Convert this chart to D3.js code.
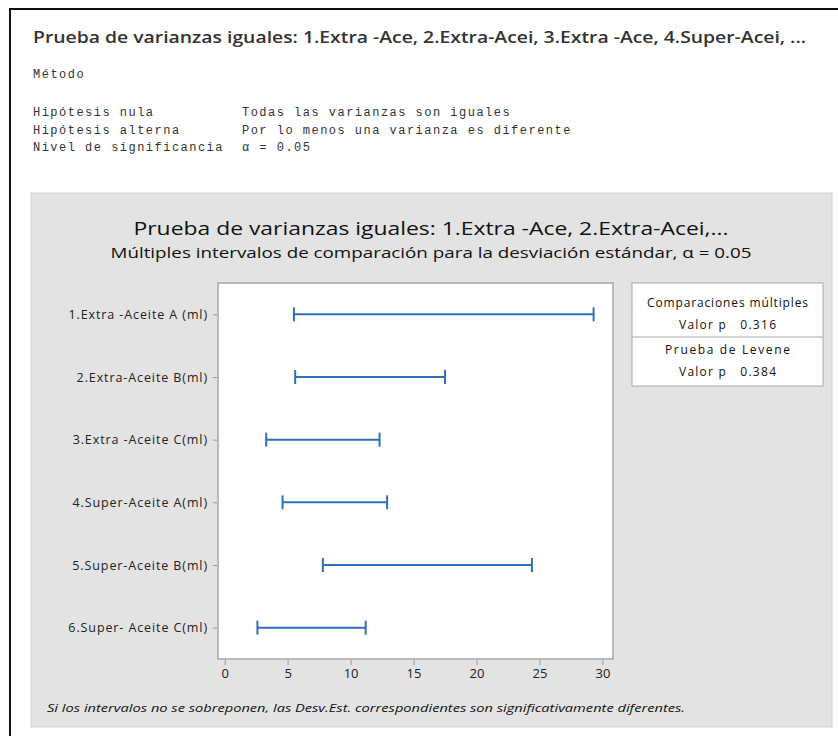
<!DOCTYPE html>
<html><head><meta charset="utf-8">
<script src="https://cdn.jsdelivr.net/npm/d3@7/dist/d3.min.js"></script>
<style>body{margin:0;background:#fff;} svg{display:block;}</style>
</head><body>
<script>
const categories = ["1.Extra -Aceite A (ml)", "2.Extra-Aceite B(ml)", "3.Extra -Aceite C(ml)", "4.Super-Aceite A(ml)", "5.Super-Aceite B(ml)", "6.Super- Aceite C(ml)"];
const lower = [5.5, 5.6, 3.3, 4.6, 7.8, 2.6];
const upper = [29.3, 17.5, 12.3, 12.9, 24.4, 11.2];
const xTicks = [0, 5, 10, 15, 20, 25, 30];
const headerTitle = "Prueba de varianzas iguales: 1.Extra -Ace, 2.Extra-Acei, 3.Extra -Ace, 4.Super-Acei, ...";
const methodRows = [["Hipótesis nula", "Todas las varianzas son iguales"], ["Hipótesis alterna", "Por lo menos una varianza es diferente"], ["Nivel de significancia", "α = 0.05"]];
const chartTitle = "Prueba de varianzas iguales: 1.Extra -Ace, 2.Extra-Acei,...";
const chartSubtitle = "Múltiples intervalos de comparación para la desviación estándar, α = 0.05";
const legendRows = ["Comparaciones múltiples", "Valor p   0.316", "Prueba de Levene", "Valor p   0.384"];
const footnote = "Si los intervalos no se sobreponen, las Desv.Est. correspondientes son significativamente diferentes.";

const W = 838, H = 736;
const svg = d3.select("body").append("svg").attr("width", W).attr("height", H);
const sans = "'Open Sans', 'Noto Sans', sans-serif";
const mono = "'Liberation Mono', 'DejaVu Sans Mono', monospace";

// outer frame
svg.append("rect").attr("x", 10).attr("y", 9).attr("width", 850).attr("height", 760)
  .attr("fill", "#fff").attr("stroke", "#111").attr("stroke-width", 2);

svg.append("text").attr("x", 33).attr("y", 43).attr("font-family", sans).attr("font-weight", 600)
  .attr("font-size", 16.5).attr("fill", "#333").attr("textLength", 773).attr("lengthAdjust", "spacingAndGlyphs")
  .text(headerTitle);

svg.append("text").attr("x", 33).attr("y", 78).attr("font-family", mono).attr("font-size", 12)
  .attr("fill", "#333").attr("letter-spacing", 1.5).text("Método");
methodRows.forEach((r, i) => {
  const yv = 116 + i * 17.5;
  svg.append("text").attr("x", 33).attr("y", yv).attr("font-family", mono).attr("font-size", 12)
    .attr("fill", "#333").attr("letter-spacing", 1.48).text(r[0]);
  svg.append("text").attr("x", 242).attr("y", yv).attr("font-family", mono).attr("font-size", 12)
    .attr("fill", "#333").attr("letter-spacing", 1.48).text(r[1]);
});

// gray panel
svg.append("rect").attr("x", 31).attr("y", 193).attr("width", 801).attr("height", 534)
  .attr("fill", "#e3e3e3").attr("stroke", "#d2d2d2").attr("stroke-width", 1);

svg.append("text").attr("x", 431).attr("y", 235).attr("text-anchor", "middle").attr("font-family", sans)
  .attr("font-size", 18.5).attr("fill", "#111").attr("textLength", 595).attr("lengthAdjust", "spacingAndGlyphs")
  .text(chartTitle);
svg.append("text").attr("x", 431).attr("y", 258).attr("text-anchor", "middle").attr("font-family", sans)
  .attr("font-size", 15).attr("fill", "#111").attr("textLength", 641).attr("lengthAdjust", "spacingAndGlyphs")
  .text(chartSubtitle);

// plot
const px0 = 218, px1 = 613, py0 = 283, py1 = 659;
const x = d3.scaleLinear().domain([-0.53, 30.84]).range([px0, px1]);
const y = d3.scalePoint().domain(categories).range([py0, py1]).padding(0.5);

svg.append("rect").attr("x", px0).attr("y", py0).attr("width", px1 - px0).attr("height", py1 - py0)
  .attr("fill", "#fff").attr("stroke", "#a8a8a8").attr("stroke-width", 1.5);

const xAxis = svg.append("g").attr("transform", `translate(0,${py1 + 1})`)
  .call(d3.axisBottom(x).tickValues(xTicks).tickSize(5).tickPadding(4));
xAxis.select(".domain").remove();
xAxis.selectAll("line").attr("stroke", "#9a9a9a");
xAxis.selectAll("text").attr("font-family", sans).attr("font-size", 13).attr("fill", "#222");

const yAxis = svg.append("g").attr("transform", `translate(${px0 - 1},0)`)
  .call(d3.axisLeft(y).tickSize(4).tickPadding(5));
yAxis.select(".domain").remove();
yAxis.selectAll("line").attr("stroke", "#9a9a9a");
yAxis.selectAll("text").attr("font-family", sans).attr("font-size", 12.5).attr("letter-spacing", 0.9).attr("fill", "#222");

const blue = "#2f6fb8";
const g = svg.append("g");
categories.forEach((c, i) => {
  const yy = y(c);
  g.append("line").attr("x1", x(lower[i])).attr("x2", x(upper[i])).attr("y1", yy).attr("y2", yy)
    .attr("stroke", blue).attr("stroke-width", 2);
  [lower[i], upper[i]].forEach(v => {
    g.append("line").attr("x1", x(v)).attr("x2", x(v)).attr("y1", yy - 7).attr("y2", yy + 7)
      .attr("stroke", blue).attr("stroke-width", 2);
  });
});

// legend box
const lx = 632, lw = 191;
svg.append("rect").attr("x", lx).attr("y", 283).attr("width", lw).attr("height", 103)
  .attr("fill", "#fff").attr("stroke", "#a8a8a8").attr("stroke-width", 1);
svg.append("line").attr("x1", lx).attr("x2", lx + lw).attr("y1", 337).attr("y2", 337)
  .attr("stroke", "#a8a8a8").attr("stroke-width", 1);
const ly = [307, 329, 354, 376];
const lLen = [161, 97, 125, 97];
legendRows.forEach((t, i) => {
  svg.append("text").attr("x", lx + lw / 2).attr("y", ly[i]).attr("text-anchor", "middle")
    .attr("font-family", sans).attr("font-size", 12).attr("fill", "#111")
    .attr("textLength", lLen[i]).attr("lengthAdjust", "spacing")
    .style("white-space", "pre").text(t);
});

svg.append("text").attr("x", 47).attr("y", 712).attr("font-family", sans).attr("font-style", "italic")
  .attr("font-size", 11.5).attr("fill", "#111").attr("textLength", 638).attr("lengthAdjust", "spacingAndGlyphs")
  .text(footnote);
</script>
</body></html>
